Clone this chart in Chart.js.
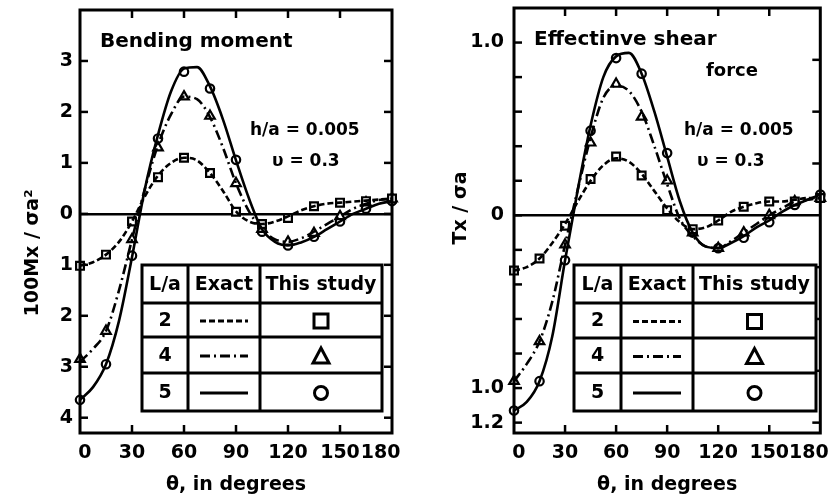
<!DOCTYPE html>
<html><head><meta charset="utf-8">
<script src="https://cdn.jsdelivr.net/npm/chart.js@4.4.1/dist/chart.umd.min.js"></script>
<style>
html,body{margin:0;padding:0;background:#fff;}
#wrap{position:relative;width:828px;height:501px;background:#fff;overflow:hidden;}
canvas{position:absolute;top:0;}
</style></head><body>
<div id="wrap"><canvas id="c1" width="414" height="501" style="left:0"></canvas><canvas id="c2" width="414" height="501" style="left:414px"></canvas></div>
<script>
// ---------- data ----------
const thetaExact = [0,7.5,15,22.5,30,37.5,45,52.5,60,67.5,75,82.5,90,97.5,105,112.5,120,127.5,135,142.5,150,157.5,165,172.5,180];
const thetaStudy = [0,15,30,45,60,75,90,105,120,135,150,165,180];
const lRatios = ['2','4','5'];

// Bending moment 100Mx/(sigma a^2)
const momentExact2 = [-1.02,-0.95,-0.8,-0.55,-0.15,0.35,0.75,1.0,1.1,1.05,0.8,0.45,0.05,-0.15,-0.2,-0.15,-0.05,0.07,0.15,0.2,0.22,0.24,0.26,0.28,0.3];
const momentExact4 = [-2.9,-2.65,-2.3,-1.5,-0.5,0.5,1.35,1.95,2.3,2.25,1.9,1.3,0.6,0.05,-0.3,-0.5,-0.55,-0.48,-0.35,-0.2,-0.05,0.1,0.2,0.27,0.3];
const momentExact5 = [-3.65,-3.4,-2.95,-2.1,-0.85,0.5,1.55,2.4,2.85,2.88,2.5,1.85,1.05,0.3,-0.3,-0.55,-0.62,-0.56,-0.45,-0.3,-0.15,0,0.1,0.2,0.25];
const momentStudy2 = [-1.02,-0.8,-0.15,0.72,1.1,0.8,0.04,-0.2,-0.08,0.15,0.22,0.25,0.3];
const momentStudy4 = [-2.85,-2.3,-0.5,1.3,2.3,1.92,0.6,-0.3,-0.55,-0.38,-0.05,0.22,0.3];
const momentStudy5 = [-3.65,-2.95,-0.82,1.48,2.79,2.46,1.06,-0.35,-0.62,-0.45,-0.15,0.1,0.25];

// Effective shear force Tx/(sigma a)
const shearExact2 = [-0.32,-0.3,-0.25,-0.16,-0.05,0.08,0.2,0.29,0.33,0.31,0.24,0.14,0.04,-0.04,-0.08,-0.07,-0.03,0.02,0.05,0.07,0.08,0.08,0.09,0.1,0.1];
const shearExact4 = [-0.96,-0.86,-0.73,-0.5,-0.17,0.15,0.45,0.68,0.75,0.72,0.6,0.4,0.18,-0.02,-0.12,-0.18,-0.19,-0.15,-0.1,-0.05,0,0.04,0.08,0.09,0.1];
const shearExact5 = [-1.13,-1.08,-0.96,-0.7,-0.26,0.15,0.52,0.8,0.92,0.94,0.82,0.6,0.34,0.08,-0.1,-0.18,-0.19,-0.16,-0.12,-0.07,-0.03,0.02,0.06,0.09,0.12];
const shearStudy2 = [-0.32,-0.25,-0.06,0.21,0.34,0.23,0.03,-0.08,-0.03,0.05,0.08,0.08,0.1];
const shearStudy4 = [-0.96,-0.73,-0.17,0.42,0.76,0.57,0.2,-0.1,-0.19,-0.1,0,0.08,0.1];
const shearStudy5 = [-1.13,-0.96,-0.26,0.49,0.91,0.82,0.36,-0.1,-0.19,-0.13,-0.04,0.06,0.12];

// ticks
const xTicks = [0,30,60,90,120,150,180];
const xTickLabels = ['\u20020','30','60','90','120','150','180\u2002\u2002\u2009'];
const xInnerTicks = [30,60,90,120,150];
const momentTicks = [-4,-3,-2,-1,0,1,2,3];
const momentTickLabels = ['4','3','2','1','0','1','2','3'];
const shearTicks = [-1.2,-1.0,-0.8,-0.6,-0.4,-0.2,0,0.2,0.4,0.6,0.8,1.0];
const shearTickLabels = ['1.2','1.0','','','','','0','','','','','1.0'];
const shearRightTicks = [0.9,0.6,0.3,-0.3,-0.6,-0.9,-1.2];

// ---------- styling ----------
const FONT = 'DejaVu Sans';
const dashes = [[6,3],[10,4,2,4],[]];
const markerStyles = ['rect','triangle','circle'];
const markerRadius = [5.5,5.5,4.2];

function pts(xs, ys){ return xs.map((x,i)=>({x:x, y:ys[i]})); }

function line(ctx,x1,y1,x2,y2){ ctx.beginPath(); ctx.moveTo(x1,y1); ctx.lineTo(x2,y2); ctx.stroke(); }

const decor = {
  id: 'decor',
  afterDatasetsDraw(chart, args, o) {
    const ctx = chart.ctx, a = chart.chartArea, xs = chart.scales.x, ys = chart.scales.y;
    ctx.save();
    ctx.strokeStyle = '#000'; ctx.fillStyle = '#000'; ctx.setLineDash([]);
    // inward tick marks
    ctx.lineWidth = 2.5;
    const tl = 8;
    xInnerTicks.forEach(v => { const px = xs.getPixelForValue(v); line(ctx,px,a.top,px,a.top+tl); line(ctx,px,a.bottom,px,a.bottom-tl); });
    o.leftTicks.forEach(v => { const py = ys.getPixelForValue(v); line(ctx,a.left,py,a.left+tl,py); });
    o.rightTicks.forEach(v => { const py = ys.getPixelForValue(v); line(ctx,a.right,py,a.right-tl,py); });
    // frame
    ctx.lineWidth = 3;
    ctx.strokeRect(a.left, a.top, a.right-a.left, a.bottom-a.top);
    // notes
    ctx.textBaseline = 'middle';
    o.notes.forEach(n => { ctx.font = n.font; ctx.textAlign = n.align || 'left'; ctx.fillText(n.text, n.x, n.y); });
    // y title
    ctx.save();
    ctx.translate(o.yTitle.x, o.yTitle.y); ctx.rotate(-Math.PI/2);
    ctx.font = 'bold 19px ' + FONT; ctx.textAlign = 'center'; ctx.textBaseline = 'middle';
    ctx.fillText(o.yTitle.text, 0, 0);
    ctx.restore();
    // legend table
    const t = o.table;
    const colX = [t.x, t.x+t.cols[0], t.x+t.cols[0]+t.cols[1], t.x+t.cols[0]+t.cols[1]+t.cols[2]];
    const rowY = [t.y]; t.rows.forEach(h => rowY.push(rowY[rowY.length-1]+h));
    ctx.fillStyle = '#fff';
    ctx.fillRect(colX[0], rowY[0], colX[3]-colX[0], rowY[4]-rowY[0]);
    ctx.fillStyle = '#000';
    ctx.lineWidth = 3;
    ctx.strokeRect(colX[0], rowY[0], colX[3]-colX[0], rowY[4]-rowY[0]);
    for (let i=1;i<3;i++) line(ctx, colX[i], rowY[0], colX[i], rowY[4]);
    for (let j=1;j<4;j++) line(ctx, colX[0], rowY[j], colX[3], rowY[j]);
    ctx.font = 'bold 19px ' + FONT; ctx.textAlign = 'center'; ctx.textBaseline = 'middle';
    const cx = [0,1,2].map(i => (colX[i]+colX[i+1])/2);
    const hy = (rowY[0]+rowY[1])/2 + 1;
    ctx.fillText('L/a', cx[0], hy); ctx.fillText('Exact', cx[1], hy); ctx.fillText('This study', cx[2], hy);
    for (let r=0;r<3;r++){
      const cy = (rowY[r+1]+rowY[r+2])/2 + 1;
      ctx.fillText(lRatios[r], cx[0], cy);
      ctx.lineWidth = 3; ctx.setLineDash(dashes[r]);
      line(ctx, cx[1]-24, cy, cx[1]+24, cy);
      ctx.setLineDash([]);
      ctx.lineWidth = 3;
      if (r===0) ctx.strokeRect(cx[2]-7, cy-7, 14, 14);
      else if (r===1) { ctx.beginPath(); ctx.moveTo(cx[2], cy-8); ctx.lineTo(cx[2]+8, cy+7); ctx.lineTo(cx[2]-8, cy+7); ctx.closePath(); ctx.stroke(); }
      else { ctx.beginPath(); ctx.arc(cx[2], cy, 6.5, 0, Math.PI*2); ctx.stroke(); }
    }
    ctx.restore();
  }
};

function makeChart(canvasId, cfg) {
  const datasets = [];
  cfg.exact.forEach((vals, i) => datasets.push({
    type: 'line', label: 'Exact L/a=' + lRatios[i], data: pts(thetaExact, vals),
    borderColor: '#000', borderWidth: 2.6, borderDash: dashes[i], pointRadius: 0,
    cubicInterpolationMode: 'monotone', fill: false, clip: false
  }));
  cfg.study.forEach((vals, i) => datasets.push({
    type: 'line', label: 'This study L/a=' + lRatios[i], data: pts(thetaStudy, vals),
    showLine: false, pointStyle: markerStyles[i], pointRadius: markerRadius[i],
    pointBorderColor: '#000', pointBackgroundColor: '#fff', pointBorderWidth: 2.2, clip: false
  }));
  return new Chart(document.getElementById(canvasId), {
    type: 'line',
    data: { datasets },
    options: {
      responsive: false, animation: false, devicePixelRatio: 1,
      layout: { padding: cfg.padding },
      plugins: { legend: { display: false }, tooltip: { enabled: false }, decor: cfg.decor },
      scales: {
        x: {
          type: 'linear', min: 0, max: 180, position: 'bottom',
          afterBuildTicks: s => { s.ticks = xTicks.map(v => ({ value: v })); },
          afterFit: s => { s.height = 68; s.paddingLeft = 0; s.paddingRight = 0; },
          ticks: { color: '#000', font: { family: FONT, size: 19, weight: 'bold' }, padding: 1, autoSkip: false, maxRotation: 0, minRotation: 0,
                   callback: v => { const k = xTicks.indexOf(v); return k >= 0 ? xTickLabels[k] : ''; } },
          grid: { display: false },
          border: { display: false },
          title: { display: true, text: 'θ, in degrees', color: '#000', font: { family: FONT, size: 19, weight: 'bold' }, padding: { top: 0, bottom: 5 } }
        },
        y: {
          type: 'linear', min: cfg.yMin, max: cfg.yMax,
          afterBuildTicks: s => { s.ticks = cfg.yTicks.map(v => ({ value: v })); },
          afterFit: s => { s.width = cfg.yWidth; s.paddingTop = 0; s.paddingBottom = 0; },
          ticks: { color: '#000', font: { family: FONT, size: 19, weight: 'bold' }, padding: cfg.yPad,
                   callback: v => { const k = cfg.yTicks.findIndex(t => Math.abs(t - v) < 1e-9); return k >= 0 ? cfg.yLabels[k] : ''; } },
          grid: { drawTicks: false, color: c => (c.tick && Math.abs(c.tick.value) < 1e-9) ? '#000' : 'rgba(0,0,0,0)', lineWidth: 2.5 },
          border: { display: false }
        }
      }
    },
    plugins: [decor]
  });
}

makeChart('c1', {
  exact: [momentExact2, momentExact4, momentExact5],
  study: [momentStudy2, momentStudy4, momentStudy5],
  yMin: -4.3, yMax: 4.0, yTicks: momentTicks, yLabels: momentTickLabels, yWidth: 80, yPad: 7,
  padding: { left: 0, right: 22, top: 10, bottom: 0 },
  decor: {
    leftTicks: momentTicks, rightTicks: momentTicks,
    yTitle: { text: '100Mx / σa²', x: 33, y: 253 },
    notes: [
      { text: 'Bending moment', x: 100, y: 42, font: 'bold 20px ' + FONT },
      { text: 'h/a = 0.005', x: 250, y: 131, font: 'bold 17px ' + FONT },
      { text: 'υ = 0.3', x: 272, y: 162, font: 'bold 17px ' + FONT }
    ],
    table: { x: 142, y: 265, cols: [46, 72, 122], rows: [38, 34, 36, 38] }
  }
});

makeChart('c2', {
  exact: [shearExact2, shearExact4, shearExact5],
  study: [shearStudy2, shearStudy4, shearStudy5],
  yMin: -1.26, yMax: 1.2, yTicks: shearTicks, yLabels: shearTickLabels, yWidth: 100, yPad: 10,
  padding: { left: 0, right: 4, top: 8, bottom: 0 },
  decor: {
    leftTicks: shearTicks, rightTicks: shearRightTicks,
    yTitle: { text: 'Tx / σa', x: 47, y: 208 },
    notes: [
      { text: 'Effectinve shear', x: 120, y: 40, font: 'bold 20px ' + FONT },
      { text: 'force', x: 292, y: 71, font: 'bold 18px ' + FONT },
      { text: 'h/a = 0.005', x: 270, y: 131, font: 'bold 17px ' + FONT },
      { text: 'υ = 0.3', x: 283, y: 162, font: 'bold 17px ' + FONT }
    ],
    table: { x: 160, y: 265, cols: [47, 72, 123], rows: [38, 35, 35, 38] }
  }
});
</script>
</body></html>
